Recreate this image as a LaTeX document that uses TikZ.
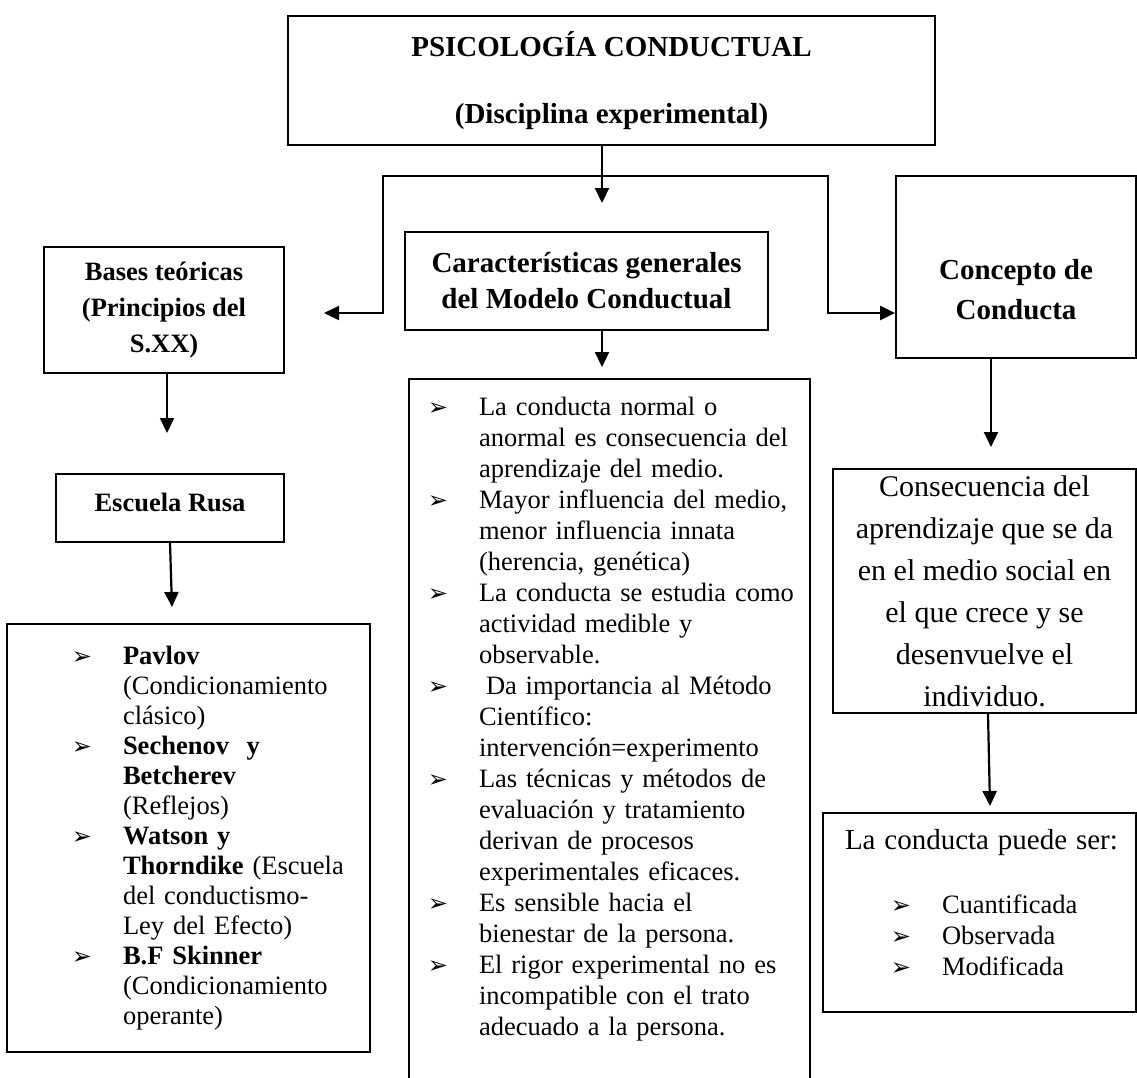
\documentclass[tikz,border=0pt]{standalone}
\usepackage{fontspec}
\setmainfont{Liberation Serif}
\newfontfamily\bulletfont{DejaVu Sans}
\usetikzlibrary{arrows.meta}
\newcommand{\flecha}{{\bulletfont\fontsize{24}{24}\selectfont ➢}}
\newcommand{\punto}[1]{\par\noindent\hangindent=#1\hangafter=1\makebox[#1][r]{\flecha\hspace{31pt}}\ignorespaces}

\begin{document}
\begin{tikzpicture}[x=1pt,y=-1pt]
\tikzset{BoxStyle/.style={draw, line width=1.8pt, inner sep=4pt},
  TitleStyle/.style={BoxStyle, align=center, font=\bfseries\fontsize{29}{36}\selectfont},
  ListStyle/.style={BoxStyle, inner xsep=10pt, font=\fontsize{26.5}{31}\selectfont},
  >={Triangle[length=15pt,width=14pt]},
  EdgeStyle/.style={line width=2.2pt, ->}}
\useasboundingbox (0,0) rectangle (1137,1077);
\node[TitleStyle, font=\bfseries\fontsize{29}{32}\selectfont, minimum width=647pt, minimum height=129pt] (psico) at (611.5,80.5) {PSICOLOGÍA CONDUCTUAL\\[35pt](Disciplina experimental)};
\node[TitleStyle, minimum width=363pt, minimum height=98pt] (caract) at (586.5,281) {Características generales\\del Modelo Conductual};
\node[TitleStyle, font=\bfseries\fontsize{26.5}{36}\selectfont, minimum width=240pt, minimum height=126pt] (bases) at (164,310) {Bases teóricas\\(Principios del\\S.XX)};
\node[TitleStyle, font=\bfseries\fontsize{26.5}{36}\selectfont, minimum width=228pt, minimum height=68pt, text depth=12pt] (escuela) at (170,508) {Escuela Rusa};
\node[TitleStyle, font=\bfseries\fontsize{29}{40}\selectfont, minimum width=240pt, minimum height=182pt] (concepto) at (1016,267) {\rule{0pt}{66pt}Concepto de\\Conducta};
\node[BoxStyle, align=center, font=\fontsize{30}{42}\selectfont, minimum width=303pt, minimum height=244pt] (consec) at (984.5,591) {Consecuencia del\\aprendizaje que se da\\en el medio social en\\el que crece y se\\desenvuelve el\\individuo.};
\node[ListStyle, text width=381pt, inner ysep=6pt, anchor=north] (medio) at (609.5,378) {%
\punto{60pt}La conducta normal o\newline anormal es consecuencia del\newline aprendizaje del medio.
\punto{60pt}Mayor influencia del medio,\newline menor influencia innata\newline (herencia, genética)
\punto{60pt}La conducta se estudia como\newline actividad medible y\newline observable.
\punto{60pt}\hspace{7pt}Da importancia al Método\newline Científico:\newline intervención=experimento
\punto{60pt}Las técnicas y métodos de\newline evaluación y tratamiento\newline derivan de procesos\newline experimentales eficaces.
\punto{60pt}Es sensible hacia el\newline bienestar de la persona.
\punto{60pt}El rigor experimental no es\newline incompatible con el trato\newline adecuado a la persona.\rule[-80pt]{0pt}{80pt}\par};
\node[ListStyle, font=\fontsize{26.5}{30}\selectfont, text width=343pt, minimum height=428pt] (autores) at (188.5,838) {%
\punto{106pt}\textbf{Pavlov}\newline (Condicionamiento\newline clásico)
\punto{106pt}\textbf{Sechenov\ \ y}\newline \textbf{Betcherev}\newline (Reflejos)
\punto{106pt}\textbf{Watson y}\newline \textbf{Thorndike} (Escuela\newline del conductismo-\newline Ley del Efecto)
\punto{106pt}\textbf{B.F Skinner}\newline (Condicionamiento\newline operante)\rule[-18pt]{0pt}{18pt}\par};
\node[ListStyle, text width=293pt, minimum height=199pt] (puede) at (979.5,912.5) {%
\noindent\hspace{12pt}{\fontsize{29}{34}\selectfont La conducta puede ser:}\par\vspace{33pt}
\punto{109pt}Cuantificada
\punto{109pt}Observada
\punto{109pt}Modificada\rule[-20pt]{0pt}{20pt}\par};
\coordinate (psico tip) at (602,203);
\coordinate (bar left) at (383,176);
\coordinate (bar right) at (828,176);
\coordinate (bases tip) at (324,313);
\coordinate (caract tip) at (602,367);
\coordinate (escuela tip) at (167,433);
\coordinate (autores tip) at (172,607);
\coordinate (consec tip) at (991,447);
\coordinate (puede tip) at (990,806);
\draw[EdgeStyle] (psico.south -| psico tip) -- (psico tip);
\draw[EdgeStyle, <->] (bases tip) -| (bar left) -- (bar right) |- (concepto.west |- bases tip);
\draw[EdgeStyle] (caract.south -| caract tip) -- (caract tip);
\draw[EdgeStyle] (bases.south -| escuela tip) -- (escuela tip);
\draw[EdgeStyle] (escuela.south) -- (autores tip);
\draw[EdgeStyle] (concepto.south -| consec tip) -- (consec tip);
\draw[EdgeStyle] ([xshift=3.5pt]consec.south) -- (puede tip);
\end{tikzpicture}
\end{document}
